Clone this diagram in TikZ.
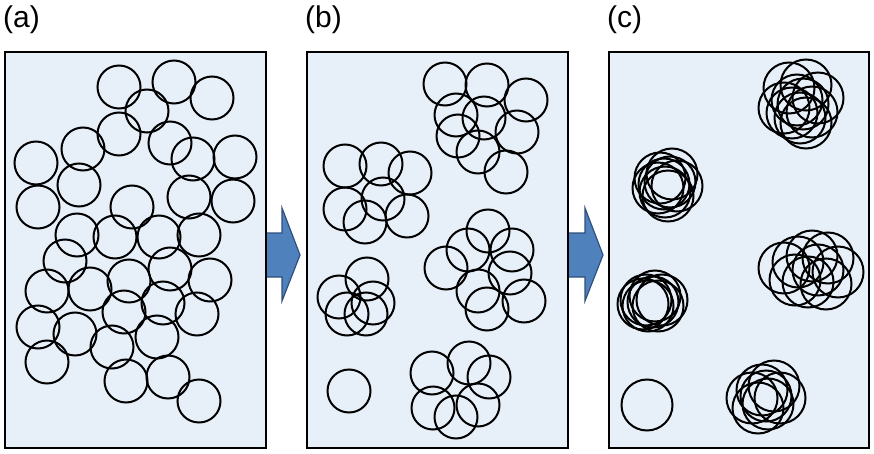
\documentclass[tikz,border=0pt]{standalone}
\usepackage{fontspec}
\setmainfont{Liberation Sans}
\usepackage{tikz}
\usepackage{xcolor}
\definecolor{panelfill}{RGB}{231,239,249}
\definecolor{arrowfill}{RGB}{79,129,189}
\definecolor{arrowline}{RGB}{47,79,125}
\tikzset{
  panel/.style={draw=black, line width=1.8pt, fill=panelfill},
  ring/.style={draw=black, line width=2pt},
  blockarrow/.style={draw=arrowline, line width=1.2pt, fill=arrowfill, line join=miter},
  tag/.style={anchor=base west, inner sep=0pt, font=\fontsize{30}{35}\selectfont}
}

\begin{document}
\begin{tikzpicture}[x=1pt, y=-1pt]
\useasboundingbox (0,0) rectangle (874,454);

% arrows between the panels
\draw[blockarrow] (255,233) -- (282,233) -- (282,208) -- (300,255) -- (282,301) -- (282,277) -- (255,277) -- cycle;
\draw[blockarrow] (558,233) -- (585,233) -- (585,208) -- (603,255) -- (585,301) -- (585,277) -- (558,277) -- cycle;

% panels
\draw[panel] (5,52) rectangle (266,448);
\draw[panel] (307,52) rectangle (568,448);
\draw[panel] (609,52) rectangle (869,448);

\node[tag] (lbla) at (3,28) {(a)};
\node[tag] (lblb) at (305,28) {(b)};
\node[tag] (lblc) at (607,28) {(c)};

% (a) dispersed
    \draw[ring] (119,87) circle (21.5);
    \draw[ring] (174,82) circle (21.5);
    \draw[ring] (212,98) circle (21.5);
    \draw[ring] (147,111) circle (21.5);
    \draw[ring] (119,134) circle (21.5);
    \draw[ring] (170,143) circle (21.5);
    \draw[ring] (83,149) circle (21.5);
    \draw[ring] (36,163) circle (21.5);
    \draw[ring] (193,159) circle (21.5);
    \draw[ring] (235,157) circle (21.5);
    \draw[ring] (79,185) circle (21.5);
    \draw[ring] (38,207) circle (21.5);
    \draw[ring] (189,197) circle (21.5);
    \draw[ring] (233,201) circle (21.5);
    \draw[ring] (132,207) circle (21.5);
    \draw[ring] (77,235) circle (21.5);
    \draw[ring] (115,237) circle (21.5);
    \draw[ring] (159,237) circle (21.5);
    \draw[ring] (199,235) circle (21.5);
    \draw[ring] (65,261) circle (21.5);
    \draw[ring] (170,269) circle (21.5);
    \draw[ring] (47,291) circle (21.5);
    \draw[ring] (90,289) circle (21.5);
    \draw[ring] (129,281) circle (21.5);
    \draw[ring] (210,280) circle (21.5);
    \draw[ring] (163,303) circle (21.5);
    \draw[ring] (124,312) circle (21.5);
    \draw[ring] (197,314) circle (21.5);
    \draw[ring] (38,327) circle (21.5);
    \draw[ring] (75,334) circle (21.5);
    \draw[ring] (112,347) circle (21.5);
    \draw[ring] (157,337) circle (21.5);
    \draw[ring] (47,362) circle (21.5);
    \draw[ring] (126,381) circle (21.5);
    \draw[ring] (168,377) circle (21.5);
    \draw[ring] (199,401) circle (21.5);

% (b) loose groups
    \draw[ring] (445,84) circle (21.5);
    \draw[ring] (487,85) circle (21.5);
    \draw[ring] (526,100) circle (21.5);
    \draw[ring] (456,115) circle (21.5);
    \draw[ring] (484,118) circle (21.5);
    \draw[ring] (517,132) circle (21.5);
    \draw[ring] (458,136) circle (21.5);
    \draw[ring] (478,152) circle (21.5);
    \draw[ring] (506,172) circle (21.5);

    \draw[ring] (345,166) circle (21.5);
    \draw[ring] (381,164) circle (21.5);
    \draw[ring] (410,173) circle (21.5);
    \draw[ring] (383,199) circle (21.5);
    \draw[ring] (345,209) circle (21.5);
    \draw[ring] (365,222) circle (21.5);
    \draw[ring] (407,216) circle (21.5);

    \draw[ring] (488,231) circle (21.5);
    \draw[ring] (468,250) circle (21.5);
    \draw[ring] (512,250) circle (21.5);
    \draw[ring] (446,268) circle (21.5);
    \draw[ring] (510,273) circle (21.5);
    \draw[ring] (478,291) circle (21.5);
    \draw[ring] (524,301) circle (21.5);
    \draw[ring] (487,309) circle (21.5);

    \draw[ring] (367,279) circle (21.5);
    \draw[ring] (339,297) circle (21.5);
    \draw[ring] (373,303) circle (21.5);
    \draw[ring] (347,314) circle (21.5);
    \draw[ring] (366,314) circle (21.5);

    \draw[ring] (432,373) circle (21.5);
    \draw[ring] (469,363) circle (21.5);
    \draw[ring] (489,377) circle (21.5);
    \draw[ring] (433,408) circle (21.5);
    \draw[ring] (478,405) circle (21.5);
    \draw[ring] (456,417) circle (21.5);

    \draw[ring] (349,391) circle (21.5);

% (c) tight clusters
    \draw[ring] (789,88) circle (25.5);
    \draw[ring] (806,85) circle (25.5);
    \draw[ring] (818,98) circle (25.5);
    \draw[ring] (797,100) circle (25.5);
    \draw[ring] (784,108) circle (25.5);
    \draw[ring] (812,112) circle (25.5);
    \draw[ring] (800,118) circle (25.5);
    \draw[ring] (806,123) circle (25.5);
    \draw[ring] (792,113) circle (25.5);
    \draw[ring] (803,104) circle (25.5);

    \draw[ring] (660,178) circle (25.5);
    \draw[ring] (672,174) circle (25.5);
    \draw[ring] (677,186) circle (25.5);
    \draw[ring] (665,192) circle (25.5);
    \draw[ring] (658,188) circle (25.5);
    \draw[ring] (670,182) circle (25.5);
    \draw[ring] (668,196) circle (25.5);
    \draw[ring] (664,184) circle (25.5);

    \draw[ring] (784,268) circle (25.5);
    \draw[ring] (798,262) circle (25.5);
    \draw[ring] (812,256) circle (25.5);
    \draw[ring] (828,258) circle (25.5);
    \draw[ring] (838,272) circle (25.5);
    \draw[ring] (826,284) circle (25.5);
    \draw[ring] (808,282) circle (25.5);
    \draw[ring] (795,280) circle (25.5);
    \draw[ring] (818,270) circle (25.5);

    \draw[ring] (643,304) circle (25.5);
    \draw[ring] (648,306) circle (25.5);
    \draw[ring] (653,302) circle (25.5);
    \draw[ring] (658,306) circle (25.5);
    \draw[ring] (662,300) circle (25.5);
    \draw[ring] (655,296) circle (25.5);
    \draw[ring] (646,300) circle (25.5);

    \draw[ring] (752,398) circle (25.5);
    \draw[ring] (762,390) circle (25.5);
    \draw[ring] (774,386) circle (25.5);
    \draw[ring] (780,398) circle (25.5);
    \draw[ring] (768,404) circle (25.5);
    \draw[ring] (758,408) circle (25.5);
    \draw[ring] (766,396) circle (25.5);

    \draw[ring] (647,405) circle (25.5);

\end{tikzpicture}
\end{document}
